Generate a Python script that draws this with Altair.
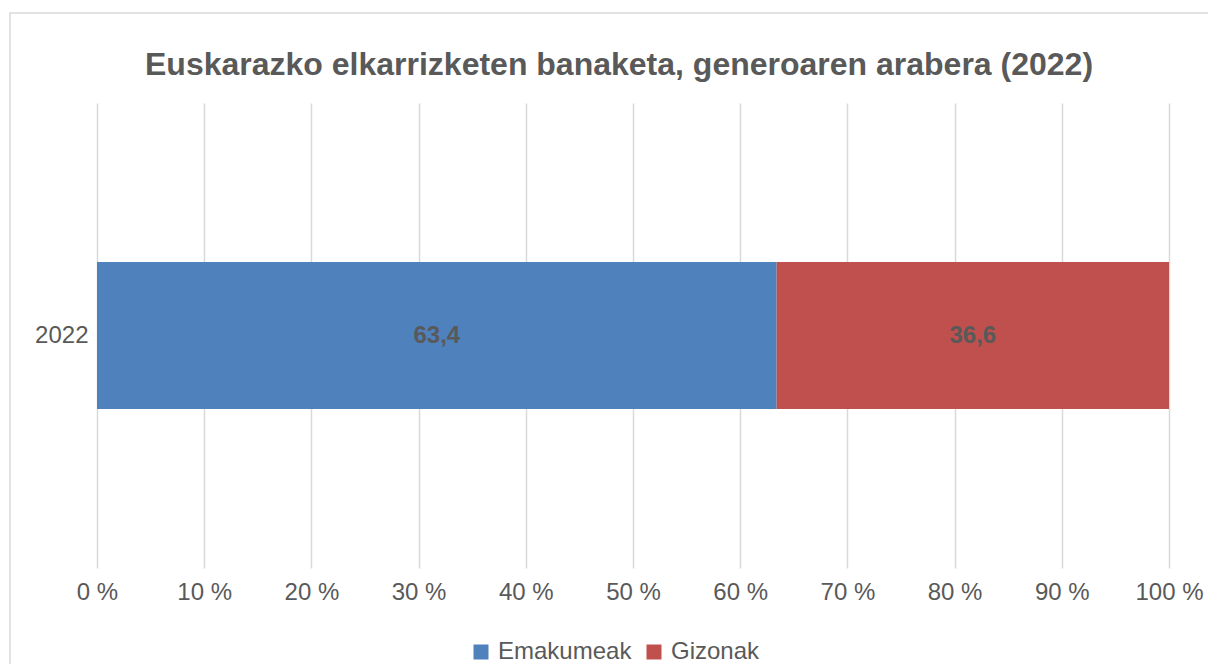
import altair as alt
import pandas as pd

years = ["2022"]
genders = ["Emakumeak", "Gizonak"]
values = [63.4, 36.6]
colors = ["#4f81bd", "#c0504d"]
ticks = list(range(0, 101, 10))

df = pd.DataFrame({"year": years * len(genders), "gender": genders, "value": values,
                   "order": list(range(len(genders)))})

base = alt.Chart(df)

x_scale = alt.Scale(domain=[0, 100], nice=False, zero=True)

bars = base.mark_bar(size=147).encode(
    x=alt.X("value:Q", stack="zero", scale=x_scale,
            axis=alt.Axis(values=ticks, labelExpr="datum.value + ' %'", title=None,
                          domain=False, ticks=False, grid=True, gridColor="#d9d9d9",
                          gridWidth=1.5, labelFontSize=24, labelColor="#595959",
                          labelPadding=12, labelFont="Liberation Sans",
                          labelFlush=False, labelOverlap=False)),
    y=alt.Y("year:N", axis=alt.Axis(title=None, domain=False, ticks=False,
                                    labelFontSize=24, labelColor="#595959",
                                    labelPadding=9, labelFont="Liberation Sans")),
    color=alt.Color("gender:N", scale=alt.Scale(domain=genders, range=colors),
                    legend=alt.Legend(title=None, orient="none", direction="horizontal",
                                      legendX=372, legendY=537, symbolType="square",
                                      symbolSize=225, symbolStrokeWidth=0,
                                      labelFontSize=24, labelColor="#595959",
                                      labelFont="Liberation Sans", columnPadding=10,
                                      labelOffset=5)),
    order=alt.Order("order:Q"),
)

labels = base.transform_window(
    cum="sum(value)", sort=[alt.SortField("order")]
).transform_calculate(
    mid="datum.cum - datum.value / 2",
    label="replace(format(datum.value, '.1f'), '.', ',')",
).mark_text(fontSize=24, fontWeight="bold", color="#595959", font="Liberation Sans").encode(
    x=alt.X("mid:Q", scale=x_scale),
    y=alt.Y("year:N"),
    text="label:N",
)

frame = alt.Chart(pd.DataFrame({"a": [0]})).mark_rect(
    fill=None, stroke="#d9d9d9", strokeWidth=1.5, clip=False
).encode(x=alt.value(-87), x2=alt.value(1200), y=alt.value(-90), y2=alt.value(700))

chart = alt.layer(frame, bars, labels).properties(
    width=1072, height=465,
    padding={"left": 89, "top": 95, "right": 39, "bottom": 96},
    autosize=alt.AutoSizeParams(type="none"),
    title=alt.TitleParams(
        "Euskarazko elkarrizketen banaketa, generoaren arabera (2022)",
        fontSize=32, fontWeight="bold", color="#595959", font="Liberation Sans",
        anchor="middle", offset=-70, dx=-14,
    ),
).configure_view(stroke=None)

chart.save("out.html", embed_options={"renderer": "svg", "actions": False})
